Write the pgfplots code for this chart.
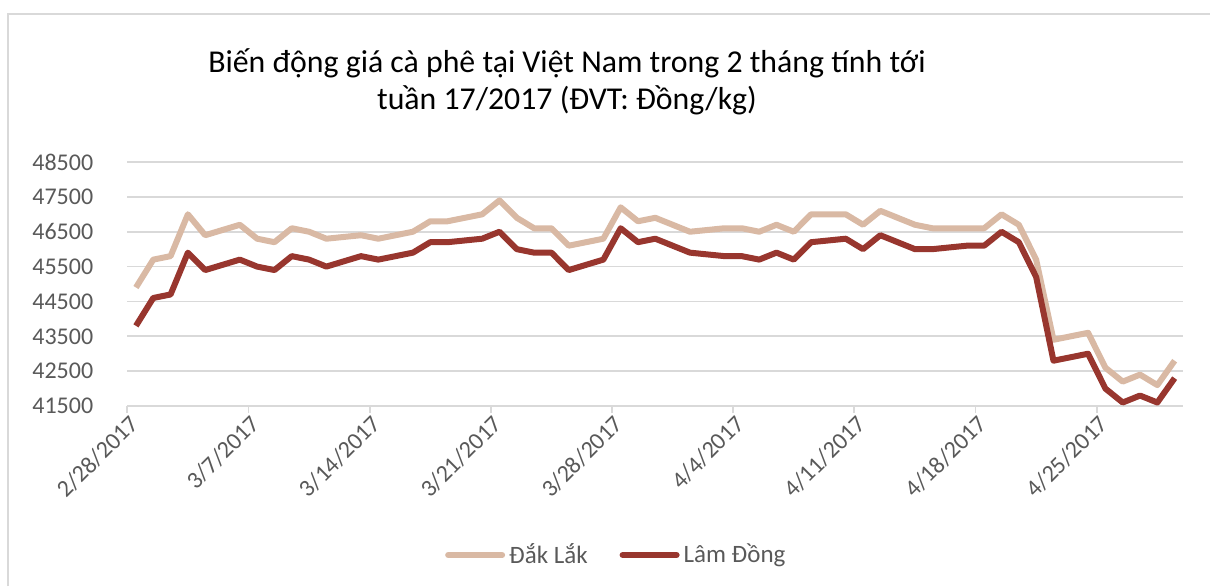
\documentclass[border=0pt]{standalone}
\usepackage{fontspec}
\setmainfont{Carlito}
\usepackage{pgfplots}
\usepackage{pgfplotstable}
\pgfplotsset{compat=1.18}
\definecolor{dak}{RGB}{217,185,164}
\definecolor{lam}{RGB}{152,54,46}
\definecolor{txt}{RGB}{89,89,89}
\definecolor{grd}{RGB}{217,217,217}
\pgfplotstableread{
x dak lam
0.5 44900 43800
1.5 45700 44600
2.5 45800 44700
3.5 47000 45900
4.5 46400 45400
6.5 46700 45700
7.5 46300 45500
8.5 46200 45400
9.5 46600 45800
10.5 46500 45700
11.5 46300 45500
13.5 46400 45800
14.5 46300 45700
15.5 46400 45800
16.5 46500 45900
17.5 46800 46200
18.5 46800 46200
20.5 47000 46300
21.5 47400 46500
22.5 46900 46000
23.5 46600 45900
24.5 46600 45900
25.5 46100 45400
27.5 46300 45700
28.5 47200 46600
29.5 46800 46200
30.5 46900 46300
31.5 46700 46100
32.5 46500 45900
34.5 46600 45800
35.5 46600 45800
36.5 46500 45700
37.5 46700 45900
38.5 46500 45700
39.5 47000 46200
41.5 47000 46300
42.5 46700 46000
43.5 47100 46400
44.5 46900 46200
45.5 46700 46000
46.5 46600 46000
48.5 46600 46100
49.5 46600 46100
50.5 47000 46500
51.5 46700 46200
52.5 45700 45200
53.5 43400 42800
55.5 43600 43000
56.5 42600 42000
57.5 42200 41600
58.5 42400 41800
59.5 42100 41600
60.5 42800 42300
}\coffee
\begin{document}
\begin{tikzpicture}[x=1pt,y=1pt]
\useasboundingbox (-63.65,-90) rectangle (541.35,203);
\draw[grd, line width=0.9pt] (-59.65,-90) -- (-59.65,196) -- (541.35,196);
\begin{axis}[
  at={(0,0)}, anchor=south west,
  scale only axis, width=528pt, height=122pt,
  xmin=0, xmax=61, ymin=41500, ymax=48500,
  xtick={0,7,...,56},
  xticklabels={2/28/2017,3/7/2017,3/14/2017,3/21/2017,3/28/2017,4/4/2017,4/11/2017,4/18/2017,4/25/2017},
  ytick={41500,42500,...,48500},
  scaled y ticks=false,
  yticklabel={\pgfmathprintnumber[fixed, precision=0, 1000 sep={}, assume math mode=true]{\tick}},
  axis line style={draw=none},
  xtick pos=bottom, tick align=outside, major tick length=3.5pt,
  xtick style={draw=grd, line width=0.9pt},
  ytick style={draw=none},
  ymajorgrids, grid style={draw=grd, line width=0.9pt},
  tick label style={font=\fontsize{12}{14}\selectfont, text=txt},
  /pgf/number format/assume math mode=true,
  /pgf/number format/1000 sep={},
  yticklabel style={xshift=-10pt},
  xticklabel style={xshift=6pt, yshift=-1pt, rotate=45, anchor=east},
  legend style={at={(0.464,-0.611)}, anchor=center, draw=none, fill=none,
    legend columns=2, font=\fontsize{12.5}{14}\selectfont, text=txt,
    /tikz/every even column/.append style={column sep=14pt}},
  legend image code/.code={\draw[#1, line cap=round] (0pt,0pt) -- (27pt,0pt);},
  clip=false,
]
\addplot[dak, line width=3pt, line join=round] table[x=x, y=dak] {\coffee};
\addlegendentry{Đắk Lắk}
\addplot[lam, line width=3pt, line join=round] table[x=x, y=lam] {\coffee};
\addlegendentry{Lâm Đồng}
\end{axis}
\node[align=center, font=\fontsize{15.9}{18.5}\selectfont, text=black] at (219.85,162) {Biến động giá cà phê tại Việt Nam trong 2 tháng tính tới\\tuần 17/2017 (ĐVT: Đồng/kg)};
\end{tikzpicture}
\end{document}
